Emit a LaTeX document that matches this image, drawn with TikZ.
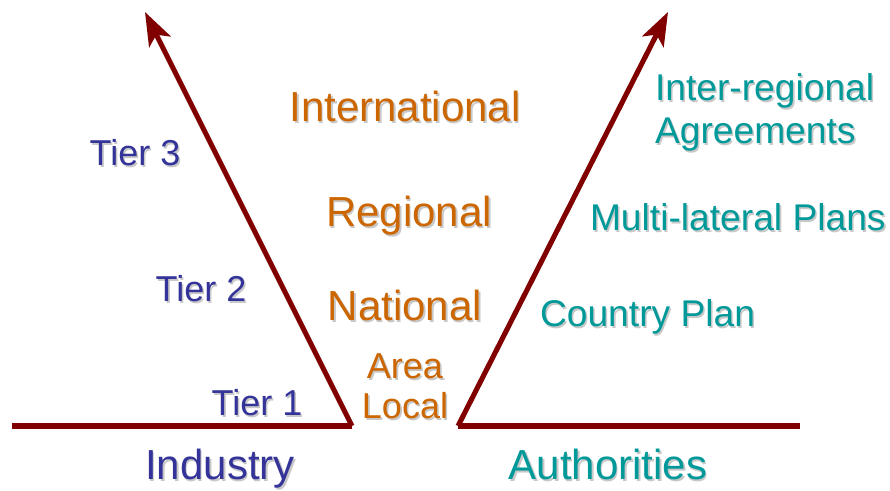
\documentclass[tikz,border=0pt]{standalone}
\usepackage{fontspec}
\setmainfont{Liberation Sans}
\usetikzlibrary{arrows.meta}
\definecolor{darkred}{RGB}{128,0,0}
\definecolor{orng}{RGB}{204,102,0}
\definecolor{bluet}{RGB}{51,51,153}
\definecolor{tealt}{RGB}{0,153,153}
\definecolor{shad}{RGB}{200,200,200}
\newcommand{\shtext}[4]{%
  \node[txt,#2,text=shad] at ([xshift=1.2pt,yshift=-1.2pt]#3) {#4};
  \node[txt,#2] (#1) at (#3) {#4};}
\tikzset{
  txt/.style={inner sep=0pt, outer sep=0pt},
  big/.style={font=\fontsize{31.5}{36}\selectfont},
  mid/.style={font=\fontsize{27.9}{32}\selectfont},
  sml/.style={font=\fontsize{27}{31}\selectfont},
  axis/.style={draw=darkred, line width=3.8pt, line cap=butt, line join=miter},
  arr/.style={axis, -{Stealth[length=25pt, width=18pt, inset=6pt]}},
}
\begin{document}
\begin{tikzpicture}[x=0.75pt,y=-0.75pt]
\useasboundingbox (0,0) rectangle (890,491);
\coordinate (lb) at (352,426);
\coordinate (rb) at (458,426);
\coordinate (l0) at (12,426);
\coordinate (r0) at (800,426);
\coordinate (lt) at (145,12);
\coordinate (rt) at (668,12);
\draw[axis] (l0) -- (lb);
\draw[axis] (rb) -- (r0);
\draw[arr] (lb) -- (lt);
\draw[arr] (rb) -- (rt);
% orange
\shtext{intl}{big,anchor=base,text=orng}{405,122}{International}
\shtext{regl}{big,anchor=base,text=orng}{409,227}{Regional}
\shtext{natl}{big,anchor=base,text=orng}{405,321}{National}
\shtext{area}{sml,anchor=base,text=orng}{405,379}{Area}
\shtext{locl}{sml,anchor=base,text=orng}{405,419}{Local}
% blue
\shtext{t3}{sml,anchor=base,text=bluet}{135,166}{Tier 3}
\shtext{t2}{sml,anchor=base,text=bluet}{201,302}{Tier 2}
\shtext{t1}{sml,anchor=base,text=bluet}{257,416}{Tier 1}
\shtext{ind}{big,anchor=base,text=bluet}{220,480}{Industry}
% teal
\shtext{auth}{big,anchor=base,text=tealt}{608,480}{Authorities}
\shtext{ir}{mid,anchor=base west,text=tealt}{655,101}{Inter-regional}
\shtext{agr}{mid,anchor=base west,text=tealt}{655,144}{Agreements}
\shtext{mlp}{mid,anchor=base west,text=tealt}{590,231}{Multi-lateral Plans}
\shtext{cp}{mid,anchor=base west,text=tealt}{540,327}{Country Plan}
\end{tikzpicture}
\end{document}
